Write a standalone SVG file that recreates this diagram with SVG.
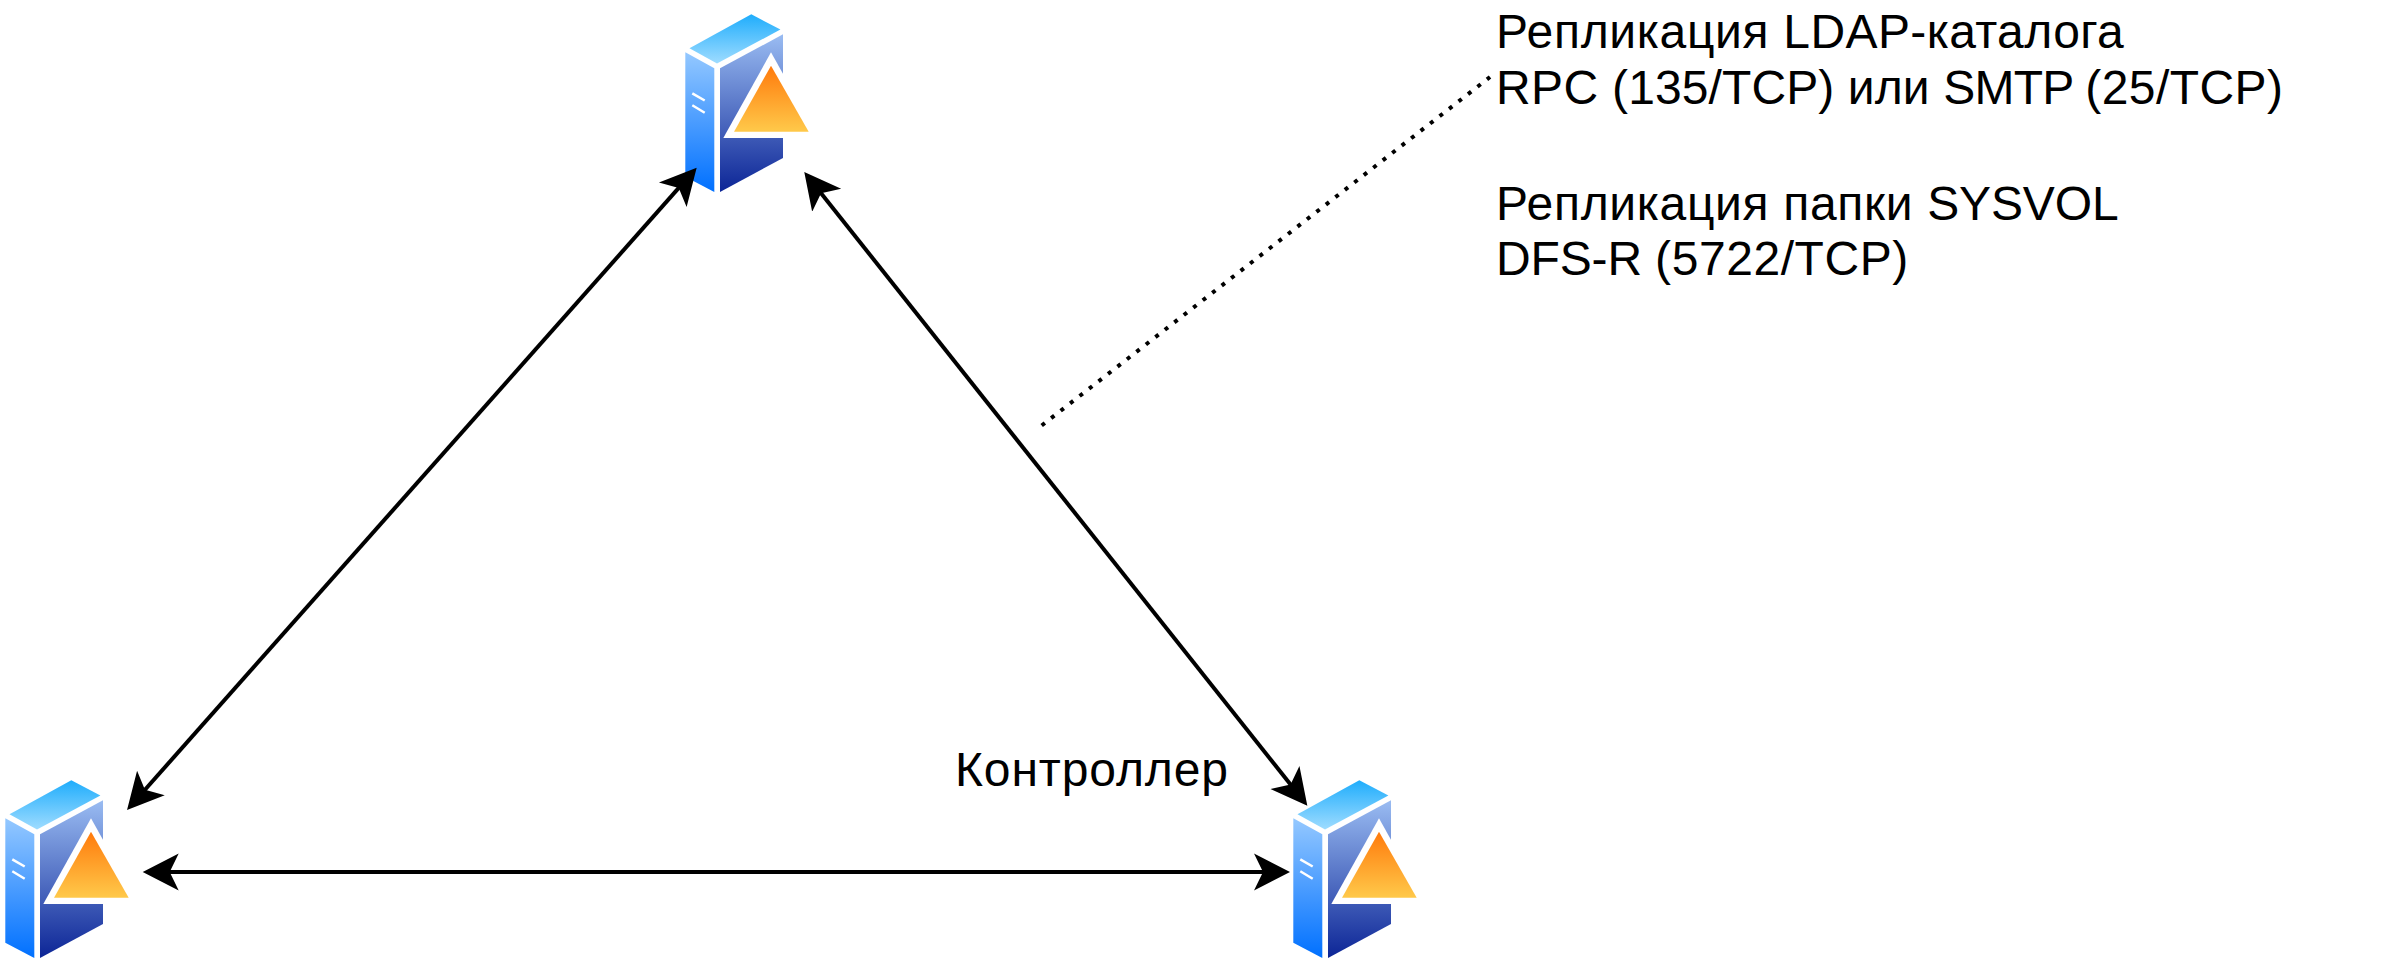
<svg xmlns="http://www.w3.org/2000/svg" width="2404" height="972" viewBox="0 0 2404 972">
<style>
text{font-family:"Liberation Sans",Arial,sans-serif;font-size:48px;fill:#000}
.c{fill:none;stroke:#000;stroke-width:4}
.d{fill:none;stroke:#000;stroke-width:4;stroke-dasharray:4 8}
.s{stroke:#fff;stroke-width:2.5;fill:none}
</style>
<defs>
<linearGradient id="gt" x1="0" y1="0" x2="0" y2="1"><stop offset="0" stop-color="#1fadfc"/><stop offset="1" stop-color="#9fdcff"/></linearGradient>
<linearGradient id="gl" x1="0" y1="0" x2="0" y2="1"><stop offset="0" stop-color="#94c8ff"/><stop offset="1" stop-color="#0070ff"/></linearGradient>
<linearGradient id="gr" x1="0" y1="0" x2="0" y2="1"><stop offset="0" stop-color="#9abcf2"/><stop offset="1" stop-color="#0c2596"/></linearGradient>
<linearGradient id="go" x1="0" y1="0" x2="0" y2="1"><stop offset="0" stop-color="#ff7a0c"/><stop offset="1" stop-color="#ffc94a"/></linearGradient>
<marker id="a" markerUnits="userSpaceOnUse" markerWidth="40" markerHeight="40" refX="16" refY="20" viewBox="0 0 40 40" orient="auto-start-reverse"><path d="M36 20L0 1.5L9 20L0 38.5Z" fill="#000"/></marker>
<g id="srv">
<path d="M751.3 14.3L780.4 29.5L717 63.6L689.5 48.3Z" fill="url(#gt)"/>
<path d="M685.3 52.3L714.3 68.3V192L685.3 176.7Z" fill="url(#gl)"/>
<path d="M720 68.3L783 34.3V158L720 192Z" fill="url(#gr)"/>
<path class="s" d="M692.3 93.3L704.7 100.5M692.3 105.3L704.7 112.7"/>
<path d="M771 52.3L723.3 138H818.7Z" fill="#fff"/>
<path d="M771 65.7L734 131.7H808.7Z" fill="url(#go)"/>
</g>
</defs>
<g id="server-top"><use href="#srv"/></g>
<g id="server-left"><use href="#srv" x="-680" y="766"/></g>
<g id="server-right"><use href="#srv" x="608" y="766"/></g>
<g id="connectors">
<path class="c" d="M683.4 182.7L140.3 795" marker-start="url(#a)" marker-end="url(#a)"/>
<path class="c" d="M816.7 187.7L1294.9 790" marker-start="url(#a)" marker-end="url(#a)"/>
<path class="c" d="M162.7 872H1270" marker-start="url(#a)" marker-end="url(#a)"/>
<path class="d" d="M1041.7 425.5L1490 77"/>
</g>
<g id="label-controller"><text x="955" y="786" letter-spacing=".9">Контроллер</text></g>
<g id="label-replication">
<text x="1496" y="48"><tspan letter-spacing=".68">Репликация </tspan><tspan letter-spacing=".41">LDAP-каталога</tspan></text>
<text x="1496" y="103.5"><tspan letter-spacing=".35">RPC </tspan><tspan letter-spacing=".1">(135/TCP) или </tspan><tspan letter-spacing="-.76">SMTP </tspan><tspan letter-spacing=".44">(25/TCP)</tspan></text>
<text x="1496" y="220"><tspan letter-spacing=".68">Репликация папки </tspan><tspan letter-spacing="-.12">SYSVOL</tspan></text>
<text x="1496" y="275"><tspan letter-spacing="-.15">DFS-R </tspan><tspan letter-spacing=".57">(5722/TCP)</tspan></text>
</g>
</svg>
